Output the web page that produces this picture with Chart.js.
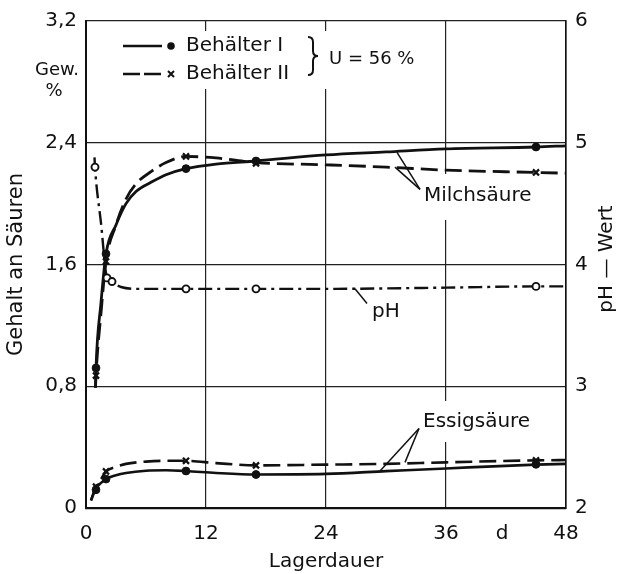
<!DOCTYPE html>
<html>
<head>
<meta charset="utf-8">
<script src="https://cdn.jsdelivr.net/npm/chart.js@4.4.1/dist/chart.umd.min.js"></script>
<style>
  html, body { margin: 0; padding: 0; background: #fff; }
  canvas { display: block; }
</style>
</head>
<body>
<canvas id="c" width="621" height="574"></canvas>
<script>
// ---- tick labels ----
const xTickValues = [0, 12, 24, 36, 48];
const xUnitTick = 41.6;
const xUnitLabel = 'd';
const yLeftTicks = [0, 0.8, 1.6, 2.4, 3.2];
const yRightTicks = [2, 3, 4, 5, 6];

// ---- measured points (markers) ----
const markDays = [1, 2, 10, 17, 45];
const milchI = [0.92, 1.67, 2.23, 2.28, 2.372];
const milchII = [0.87, 1.62, 2.31, 2.265, 2.205];
const essigI = [0.12, 0.19, 0.243, 0.22, 0.287];
const essigII = [0.14, 0.24, 0.31, 0.28, 0.313];
const phDays = [0.9, 2.1, 2.6, 10, 17, 45];
const phValues = [4.80, 3.89, 3.86, 3.80, 3.80, 3.82];

// ---- drawn curves ----
const milchCurveDays = [0.95, 1, 1.5, 2, 3, 4, 5, 6.5, 8, 10, 13, 17, 24, 30, 36, 45, 48];
const milchICurve  = [0.79, 0.92, 1.35, 1.67, 1.86, 2.0, 2.08, 2.14, 2.19, 2.23, 2.26, 2.28, 2.32, 2.34, 2.36, 2.372, 2.38];
const milchIICurve = [0.79, 0.87, 1.28, 1.62, 1.86, 2.03, 2.13, 2.21, 2.27, 2.31, 2.30, 2.27, 2.255, 2.24, 2.22, 2.205, 2.20];
const essigCurveDays = [0.5, 1, 1.5, 2, 3, 4, 6, 8, 10, 13, 17, 24, 30, 36, 45, 48];
const essigICurve  = [0.05, 0.13, 0.165, 0.19, 0.215, 0.23, 0.245, 0.248, 0.243, 0.23, 0.22, 0.224, 0.242, 0.26, 0.285, 0.29];
const essigIICurve = [0.05, 0.14, 0.19, 0.24, 0.27, 0.29, 0.305, 0.31, 0.31, 0.295, 0.28, 0.285, 0.29, 0.30, 0.313, 0.315];
const phCurveDays = [0.85, 0.9, 1.5, 2.1, 2.6, 3.5, 5, 10, 17, 24, 36, 45, 48];
const phCurve = [4.88, 4.80, 4.34, 3.89, 3.85, 3.815, 3.80, 3.80, 3.80, 3.80, 3.81, 3.82, 3.82];

const FONT = '"DejaVu Sans", sans-serif';
const INK = '#111';

const zip = (xs, ys) => xs.map((x, i) => ({ x: x, y: ys[i] }));

function curve(days, vals, dash, width, axis) {
  return {
    type: 'line', data: zip(days, vals), yAxisID: axis || 'y',
    borderColor: INK, borderWidth: width, borderDash: dash,
    pointRadius: 0, fill: false, cubicInterpolationMode: 'monotone', order: 2
  };
}
function marks(days, vals, style, axis) {
  const base = {
    type: 'scatter', data: zip(days, vals), yAxisID: axis || 'y',
    showLine: false, borderColor: INK, order: 1, pointHoverRadius: 0
  };
  if (style === 'dot') return Object.assign(base, { pointStyle: 'circle', pointRadius: 3.9, pointBackgroundColor: INK, pointBorderWidth: 1 });
  if (style === 'cross') return Object.assign(base, { pointStyle: 'crossRot', pointRadius: 4.3, pointBorderWidth: 2.3, pointBackgroundColor: INK });
  return Object.assign(base, { pointStyle: 'circle', pointRadius: 3.5, pointBackgroundColor: '#fff', pointBorderWidth: 1.9 });
}

const DASH = [17, 7];
const DASHDOT = [14, 5, 3, 5];

const annotate = {
  id: 'annotate',
  beforeDatasetsDraw(chart) {
    // white boxes that interrupt the grid behind the labels
    const ctx = chart.ctx;
    ctx.save();
    ctx.fillStyle = '#fff';
    ctx.fillRect(105, 31, 320, 58);   // legend
    ctx.fillRect(420, 174, 116, 46);  // Milchsäure
    ctx.fillRect(418, 401, 118, 41);  // Essigsäure
    ctx.restore();
  },
  afterDatasetsDraw(chart) {
    const ctx = chart.ctx, sx = chart.scales.x, sy = chart.scales.y, sp = chart.scales.y2;
    const P = (d, v, s) => [sx.getPixelForValue(d), (s || sy).getPixelForValue(v)];
    ctx.save();
    ctx.strokeStyle = INK; ctx.fillStyle = INK;
    ctx.font = '20px ' + FONT;
    ctx.textBaseline = 'middle';
    ctx.textAlign = 'left';

    const line = (a, b, w) => { ctx.lineWidth = w || 1.5; ctx.beginPath(); ctx.moveTo(a[0], a[1]); ctx.lineTo(b[0], b[1]); ctx.stroke(); };

    // Milchsäure label with two leaders
    const mTip = P(33.4, 2.094);
    line(P(31.1, 2.337), mTip);
    line(P(30.9, 2.24), mTip);
    ctx.fillText('Milchsäure', sx.getPixelForValue(33.8), sy.getPixelForValue(2.05));

    // pH label
    line(P(26.9, 3.80, sp), P(28.1, 3.68, sp));
    ctx.fillText('pH', sx.getPixelForValue(28.6), sp.getPixelForValue(3.61));

    // Essigsäure label
    const eTip = P(33.3, 0.522);
    line(P(29.4, 0.243), eTip);
    line(P(31.9, 0.30), eTip);
    ctx.fillText('Essigsäure', sx.getPixelForValue(33.7), sy.getPixelForValue(0.567));

    // legend
    ctx.lineWidth = 2.6;
    ctx.setLineDash([]);
    ctx.beginPath(); ctx.moveTo(123, 46); ctx.lineTo(162, 46); ctx.stroke();
    ctx.beginPath(); ctx.arc(171, 46, 3.8, 0, Math.PI * 2); ctx.fill();
    ctx.fillText('Behälter I', 186, 46);
    ctx.setLineDash([17, 4]);
    ctx.beginPath(); ctx.moveTo(123, 74); ctx.lineTo(161, 74); ctx.stroke();
    ctx.setLineDash([]);
    ctx.lineWidth = 2;
    ctx.beginPath(); ctx.moveTo(168, 71); ctx.lineTo(174, 77); ctx.moveTo(174, 71); ctx.lineTo(168, 77); ctx.stroke();
    ctx.fillText('Behälter II', 186, 74);
    // brace
    ctx.lineWidth = 2;
    ctx.beginPath();
    ctx.moveTo(308, 37);
    ctx.quadraticCurveTo(313, 37, 313, 42);
    ctx.lineTo(313, 51);
    ctx.quadraticCurveTo(313, 56, 318, 56);
    ctx.quadraticCurveTo(313, 56, 313, 61);
    ctx.lineTo(313, 70);
    ctx.quadraticCurveTo(313, 75, 308, 75);
    ctx.stroke();
    ctx.font = '18px ' + FONT;
    ctx.fillText('U = 56 %', 329, 59);

    // unit of the left axis
    ctx.font = '18px ' + FONT;
    ctx.textAlign = 'center';
    ctx.fillText('Gew.', 57, 70);
    ctx.fillText('%', 54, 91);

    // right axis title (reads bottom to top)
    ctx.font = '20px ' + FONT;
    ctx.translate(607, 259);
    ctx.rotate(-Math.PI / 2);
    ctx.fillText('pH — Wert', 0, 0);
    ctx.restore();
  }
};

const tickFont = { family: FONT, size: 20 };

new Chart(document.getElementById('c'), {
  data: {
    datasets: [
      curve(milchCurveDays, milchICurve, [], 2.8),
      curve(milchCurveDays, milchIICurve, DASH, 2.8),
      curve(essigCurveDays, essigICurve, [], 2.6),
      curve(essigCurveDays, essigIICurve, DASH, 2.6),
      curve(phCurveDays, phCurve, DASHDOT, 2.4, 'y2'),
      marks(markDays, milchI, 'dot'),
      marks(markDays, milchII, 'cross'),
      marks(markDays, essigI, 'dot'),
      marks(markDays, essigII, 'cross'),
      marks(phDays, phValues, 'ring', 'y2')
    ]
  },
  options: {
    responsive: false,
    animation: false,
    devicePixelRatio: 1,
    events: [],
    layout: { padding: { top: 17, left: 0, right: 0, bottom: 0 } },
    plugins: { legend: { display: false }, tooltip: { enabled: false } },
    scales: {
      x: {
        type: 'linear', position: 'bottom', min: 0, max: 48,
        afterBuildTicks: s => { s.ticks = xTickValues.slice(0, 4).concat([xUnitTick], xTickValues.slice(4)).map(v => ({ value: v })); },
        afterFit: s => { s.height = 66; },
        ticks: {
          autoSkip: false, maxRotation: 0, padding: 14, color: INK, font: tickFont,
          callback: v => (v === xUnitTick ? xUnitLabel : String(v))
        },
        grid: {
          drawTicks: false, lineWidth: 1.2,
          color: c => (c.tick && c.tick.value === xUnitTick ? 'rgba(0,0,0,0)' : '#222')
        },
        border: { display: true, color: INK, width: 2.2 },
        title: { display: true, text: 'Lagerdauer', color: INK, font: { family: FONT, size: 20 }, padding: { top: 0, bottom: 0 } }
      },
      y: {
        type: 'linear', position: 'left', min: 0, max: 3.2,
        afterBuildTicks: s => { s.ticks = yLeftTicks.map(v => ({ value: v })); },
        afterFit: s => { s.width = 86; },
        ticks: {
          padding: 9, color: INK, font: tickFont,
          callback: v => (v === 0 ? '0' : v.toFixed(1).replace('.', ','))
        },
        grid: { drawTicks: false, lineWidth: 1.2, color: '#222' },
        border: { display: true, color: INK, width: 2 },
        title: { display: true, text: 'Gehalt an Säuren', color: INK, font: { family: FONT, size: 21 }, padding: { top: 4, bottom: 0 } }
      },
      y2: {
        type: 'linear', position: 'right', min: 2, max: 6,
        afterBuildTicks: s => { s.ticks = yRightTicks.map(v => ({ value: v })); },
        afterFit: s => { s.width = 55; },
        ticks: { padding: 9, color: INK, font: tickFont, callback: v => String(v) },
        grid: { drawTicks: false, drawOnChartArea: false },
        border: { display: true, color: INK, width: 1.6 }
      }
    }
  },
  plugins: [annotate]
});
</script>
</body>
</html>
